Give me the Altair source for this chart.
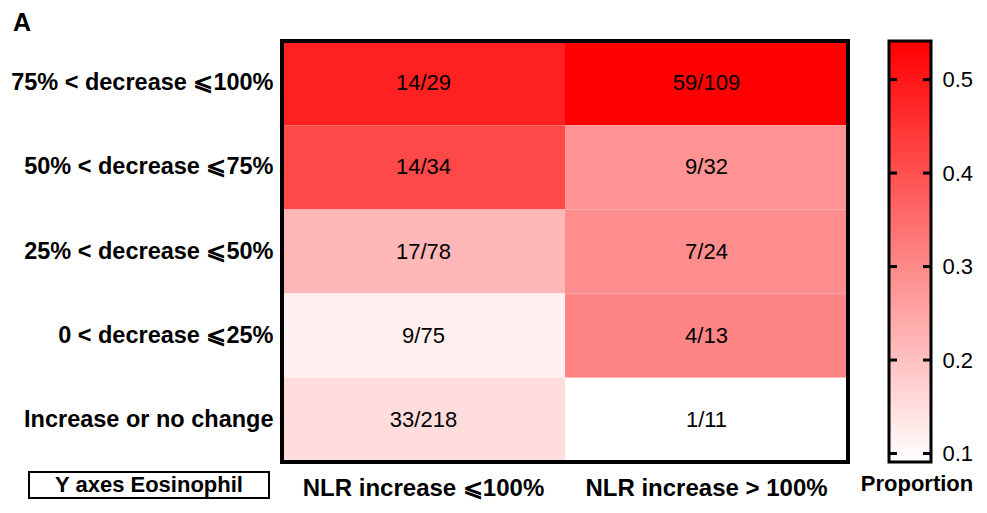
import altair as alt
import pandas as pd

rows = ["75% < decrease ⩽100%", "50% < decrease ⩽75%", "25% < decrease ⩽50%",
        "0 < decrease ⩽25%", "Increase or no change"]
cols = ["NLR increase ⩽100%", "NLR increase > 100%"]
num_low = [14, 14, 17, 9, 33]
den_low = [29, 34, 78, 75, 218]
num_high = [59, 9, 7, 4, 1]
den_high = [109, 32, 24, 13, 11]
legend_ticks = [0.1, 0.2, 0.3, 0.4, 0.5]
panel_letter = ["A"]
box_label = ["Y axes Eosinophil"]
legend_title = ["Proportion"]

records = []
for r, n1, d1, n2, d2 in zip(rows, num_low, den_low, num_high, den_high):
    records.append({"row": r, "col": cols[0], "label": f"{n1}/{d1}", "p": n1 / d1})
    records.append({"row": r, "col": cols[1], "label": f"{n2}/{d2}", "p": n2 / d2})
df = pd.DataFrame(records)
pmin, pmax = float(df.p.min()), float(df.p.max())

FONT = "Liberation Sans"
W, H = 566, 421
LW = 42
EXT = 273

color_scale = alt.Scale(domain=[pmin, pmax], range=["#ffffff", "#ff0000"], interpolate="rgb")

base = alt.Chart(df).encode(
    x=alt.X("col:N", sort=cols, scale=alt.Scale(paddingInner=0, paddingOuter=0),
            axis=alt.Axis(title=None, orient="bottom", labelAngle=0, labelFontSize=24,
                          labelFontWeight="bold", domain=False, ticks=False, labelPadding=14,
                          labelLimit=0)),
    y=alt.Y("row:N", sort=rows, scale=alt.Scale(paddingInner=0, paddingOuter=0),
            axis=alt.Axis(title=None, labelFontSize=23.5, labelFontWeight="bold", domain=False,
                          ticks=False, labelPadding=9, minExtent=EXT, maxExtent=EXT,
                          labelLimit=0)),
)
rects = base.mark_rect().encode(color=alt.Color("p:Q", scale=color_scale, legend=None))
texts = base.mark_text(fontSize=22, font=FONT, color="black").encode(text="label:N")

frame_df = pd.DataFrame({"t": ["frame"]})
heat_frame = alt.Chart(frame_df).mark_rect(filled=False, stroke="black", strokeWidth=4).encode(
    x=alt.value(0), x2=alt.value(W), y=alt.value(0), y2=alt.value(H))

letter = alt.Chart(pd.DataFrame({"t": panel_letter})).mark_text(
    fontSize=25, fontWeight="bold", font=FONT, align="left", baseline="top", color="black"
).encode(x=alt.value(-269), y=alt.value(-30), text="t:N")

box = alt.Chart(pd.DataFrame({"t": box_label})).mark_rect(
    filled=False, stroke="black", strokeWidth=2
).encode(x=alt.value(-253), x2=alt.value(-13), y=alt.value(431), y2=alt.value(457))
box_text = alt.Chart(pd.DataFrame({"t": box_label})).mark_text(
    fontSize=22, fontWeight="bold", font=FONT, color="black", baseline="alphabetic"
).encode(x=alt.value(-133), y=alt.value(451), text="t:N")

heat = alt.layer(rects, texts, heat_frame, letter, box, box_text).properties(width=W, height=H)

yscale = alt.Scale(domain=[pmin, pmax], nice=False, zero=False)
leg_df = pd.DataFrame({"lo": [pmin], "hi": [pmax]})
grad = alt.Chart(leg_df).mark_rect(
    color=alt.LinearGradient(
        gradient="linear",
        stops=[alt.GradientStop(color="#ffffff", offset=0), alt.GradientStop(color="#ff0000", offset=1)],
        x1=0, x2=0, y1=1, y2=0),
    stroke="black", strokeWidth=3
).encode(
    x=alt.value(0), x2=alt.value(LW),
    y=alt.Y("lo:Q", scale=yscale,
            axis=alt.Axis(orient="right", values=legend_ticks, format=".1f", title=None,
                          domain=False, ticks=False, grid=False, labelFontSize=22,
                          labelPadding=11)),
    y2="hi:Q",
)
tick_df = pd.DataFrame({"v": legend_ticks})
ticks_left = alt.Chart(tick_df).mark_rule(color="black", strokeWidth=3).encode(
    y=alt.Y("v:Q", scale=yscale), x=alt.value(0), x2=alt.value(8))
ticks_right = alt.Chart(tick_df).mark_rule(color="black", strokeWidth=3).encode(
    y=alt.Y("v:Q", scale=yscale), x=alt.value(LW - 8), x2=alt.value(LW))
ptitle = alt.Chart(pd.DataFrame({"t": legend_title})).mark_text(
    fontSize=22, fontWeight="bold", font=FONT, color="black", baseline="alphabetic"
).encode(x=alt.value(28), y=alt.value(450), text="t:N")

legend = alt.layer(grad, ticks_left, ticks_right, ptitle).properties(width=LW, height=H)

chart = alt.hconcat(heat, legend, spacing=41, bounds="flush").properties(
    padding={"left": 0, "top": 2, "right": 0, "bottom": 0}
).configure_view(
    stroke=None
).configure_axis(
    labelFont=FONT, labelColor="black"
).configure(background="white")

chart.save("out.html", embed_options={"renderer": "svg", "actions": False})
